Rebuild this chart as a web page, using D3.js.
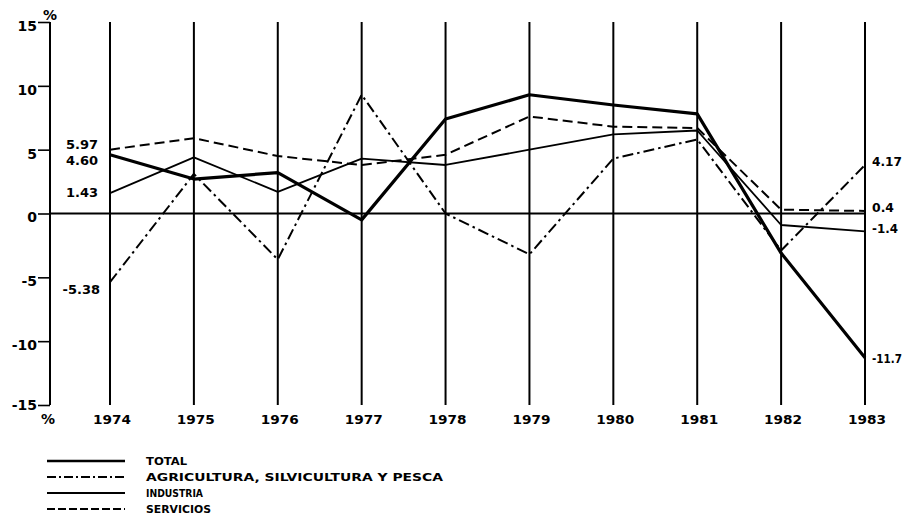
<!DOCTYPE html>
<html>
<head>
<meta charset="utf-8">
<script src="https://cdn.jsdelivr.net/npm/d3@7"></script>
<style>
  html, body { margin: 0; padding: 0; background: #fff; }
  svg { display: block; }
  text { font-family: "DejaVu Sans", "Liberation Sans", sans-serif; font-weight: bold; fill: #000; }
</style>
</head>
<body>
<svg id="chart" width="908" height="518"></svg>
<script>
// ---- data ----
const years = [1974, 1975, 1976, 1977, 1978, 1979, 1980, 1981, 1982, 1983];
const total       = [4.6, 2.7, 3.2, -0.5, 7.4, 9.3, 8.5, 7.8, -3.1, -11.3];
const agricultura = [-5.38, 3.1, -3.6, 9.3, 0.0, -3.2, 4.3, 5.8, -2.9, 3.8];
const industria   = [1.6, 4.4, 1.7, 4.3, 3.8, 5.0, 6.2, 6.5, -0.9, -1.4];
const servicios   = [5.0, 5.9, 4.5, 3.8, 4.6, 7.6, 6.8, 6.7, 0.3, 0.2];
const yTicks = [15, 10, 5, 0, -5, -10, -15];
const seriesNames = ["TOTAL", "AGRICULTURA, SILVICULTURA Y PESCA", "INDUSTRIA", "SERVICIOS"];
const startLabels = ["4.60", "-5.38", "1.43", "5.97"];
const endLabels   = ["-11.7", "4.17", "-1.4", "0.4"];

// ---- layout ----
const svg = d3.select("#chart");
const x = d3.scalePoint().domain(years).range([110, 865]);
const y = d3.scaleLinear().domain([-15, 15]).range([405, 22]);

const styles = [
  { w: 3.2, dash: null },
  { w: 2, dash: "11,4,2.5,4" },
  { w: 1.8, dash: null },
  { w: 2, dash: "10,5" }
];
const series = [total, agricultura, industria, servicios];

// vertical grid lines
svg.append("g").selectAll("line").data(years).join("line")
  .attr("x1", d => x(d)).attr("x2", d => x(d))
  .attr("y1", y(15)).attr("y2", y(-15))
  .attr("stroke", "#000").attr("stroke-width", 2);

// y axis
const yAxis = d3.axisLeft(y).tickValues(yTicks).tickSize(12).tickFormat("");
const gy = svg.append("g").attr("transform", "translate(50,0)").call(yAxis);
gy.select(".domain").remove();
gy.selectAll(".tick line").attr("stroke", "#000").attr("stroke-width", 1.6);
svg.append("line").attr("x1", 50).attr("x2", 50).attr("y1", y(15)).attr("y2", y(-15))
  .attr("stroke", "#000").attr("stroke-width", 2);

// y labels
svg.append("g").selectAll("text").data(yTicks).join("text")
  .attr("x", 37).attr("y", d => y(d) + (d === -15 ? 0 : 4))
  .attr("dy", "0.35em").attr("text-anchor", "end")
  .attr("font-size", 14)
  .text(d => d < 0 ? "-" + Math.abs(d) : d);

svg.append("text").attr("x", 50).attr("y", 20).attr("text-anchor", "middle")
  .attr("font-size", 14).text("%");
svg.append("text").attr("x", 48).attr("y", 424).attr("text-anchor", "middle")
  .attr("font-size", 14).text("%");

// zero line
svg.append("line").attr("x1", 50).attr("x2", x(1983)).attr("y1", y(0)).attr("y2", y(0))
  .attr("stroke", "#000").attr("stroke-width", 2);

// x labels
svg.append("g").selectAll("text").data(years).join("text")
  .attr("x", d => x(d) + 2).attr("y", 424).attr("text-anchor", "middle")
  .attr("font-size", 13).attr("textLength", 38).attr("lengthAdjust", "spacingAndGlyphs")
  .text(d => d);

// series lines
const line = d3.line().x((d, i) => x(years[i])).y(d => y(d));
series.forEach((s, k) => {
  svg.append("path").datum(s)
    .attr("d", line).attr("fill", "none").attr("stroke", "#000")
    .attr("stroke-width", styles[k].w)
    .attr("stroke-dasharray", styles[k].dash)
    .attr("stroke-linejoin", "round");
});

// start labels
const startY = [160, 289, 192, 144];
const startX = [98, 100, 98, 98];
startLabels.forEach((t, k) => {
  svg.append("text").attr("x", startX[k]).attr("y", startY[k]).attr("dy", "0.35em")
    .attr("text-anchor", "end").attr("font-size", 13).text(t);
});
// end labels
const endY = [359, 162, 229, 208];
const endW = [30, 30, 26, 22];
endLabels.forEach((t, k) => {
  svg.append("text").attr("x", 872).attr("y", endY[k]).attr("dy", "0.35em")
    .attr("font-size", 12).attr("textLength", endW[k]).attr("lengthAdjust", "spacingAndGlyphs")
    .text(t);
});

// legend
const lg = svg.append("g");
const widths = [41, 297, 57, 65];
seriesNames.forEach((n, k) => {
  const ly = 461 + k * 16;
  lg.append("line").attr("x1", 47).attr("x2", 125).attr("y1", ly).attr("y2", ly)
    .attr("stroke", "#000").attr("stroke-width", k === 0 ? 2.4 : 1.8)
    .attr("stroke-dasharray", k === 1 ? "9,3,2,3" : (k === 3 ? "8,3" : null));
  lg.append("text").attr("x", 146).attr("y", ly).attr("dy", "0.35em")
    .attr("font-size", 11).attr("textLength", widths[k]).attr("lengthAdjust", "spacingAndGlyphs")
    .text(n);
});
</script>
</body>
</html>
